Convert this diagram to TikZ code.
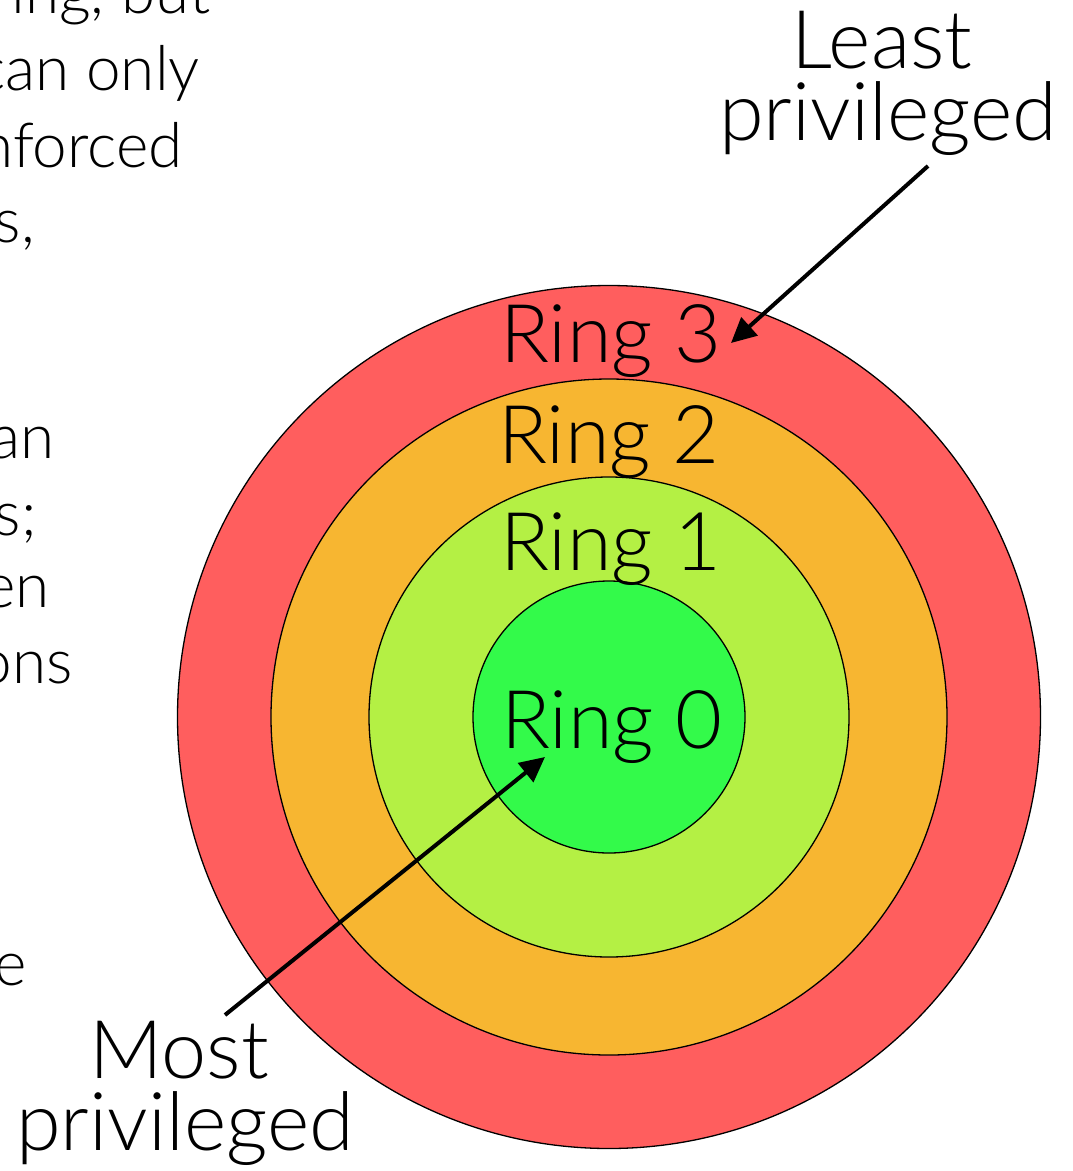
\documentclass[tikz,border=0pt]{standalone}
\usepackage{fontspec}
\IfFontExistsTF{Lato Light}{\setmainfont{Lato Light}}{\setmainfont{Lato}}
\usetikzlibrary{arrows.meta}
\definecolor{ringred}{HTML}{FF5E5E}
\definecolor{ringorange}{HTML}{F7B631}
\definecolor{ringlime}{HTML}{B4F044}
\definecolor{ringgreen}{HTML}{33FA4A}
\begin{document}
\begin{tikzpicture}[x=1pt,y=-1pt,
  ringlbl/.style={font=\fontsize{81}{81}\selectfont, inner sep=0pt, anchor=base},
  sidetxt/.style={font=\fontsize{81}{81}\selectfont, inner sep=0pt, anchor=base},
  frag/.style={font=\fontsize{62}{62}\selectfont, inner sep=0pt, anchor=base east},
  ringc/.style={circle, draw=black, line width=1.3pt, inner sep=0pt},
  pointer/.style={line width=4pt, -{Triangle[length=25pt,width=24pt]}}]
\fill[white] (0,0) rectangle (1073,1171);
\useasboundingbox (0,0) rectangle (1073,1171);
\clip (0,0) rectangle (1073,1171);
% left text fragments (cut off)
\node[frag] (f1) at (211,13) {ing, but};
\node[frag] (f2) at (200,90) {can only};
\node[frag] (f3) at (183,167) {nforced};
\node[frag] (f4) at (35,242) {s,};
\node[frag] (f5) at (55,458) {an};
\node[frag] (f6) at (37,535) {s;};
\node[frag] (f7) at (50,607) {en};
\node[frag] (f8) at (73,683) {ons};
\node[frag] (f9) at (27,985) {e};
% rings
\node[ringc, fill=ringred, minimum size=863pt] (r3) at (609,717) {};
\node[ringc, fill=ringorange, minimum size=676pt] (r2) at (609,717) {};
\node[ringc, fill=ringlime, minimum size=480pt] (r1) at (609,717) {};
\node[ringc, fill=ringgreen, minimum size=272pt] (r0) at (609,717) {};
\node[ringlbl] (l3) at (611,362) {Ring 3};
\node[ringlbl] (l2) at (609,463) {Ring 2};
\node[ringlbl] (l1) at (611,570) {Ring 1};
\node[ringlbl] (l0) at (612,748) {Ring 0};
% side labels
\node[sidetxt] (least1) at (882,68) {Least};
\node[sidetxt] (least2) at (888,140) {privileged};
\node[sidetxt] (most1) at (179,1078) {Most};
\node[sidetxt] (most2) at (185,1150) {privileged};
\coordinate (lstart) at (928,166);
\coordinate (ltip) at (731,343);
\coordinate (mstart) at (225,1015);
\coordinate (mtip) at (545,757);
\draw[pointer] (lstart) -- (ltip);
\draw[pointer] (mstart) -- (mtip);
\end{tikzpicture}
\end{document}
